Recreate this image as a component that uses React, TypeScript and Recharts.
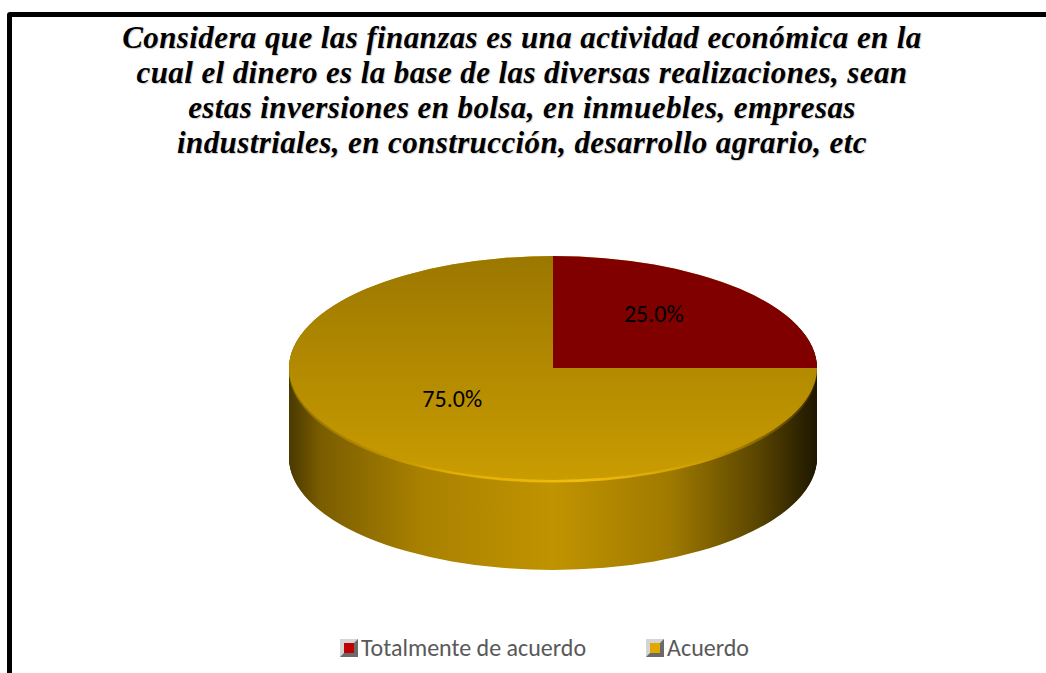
import { PieChart, Pie, Cell } from 'recharts';

const categories = ['Totalmente de acuerdo', 'Acuerdo'];
const values = [25, 75];
const topColors = ['#800000', 'url(#topYellow)'];
const legendColors = ['#C00000', '#E0A800'];

const titleLines = [
  'Considera que las finanzas es una actividad económica en la',
  'cual el dinero es la base de las diversas realizaciones, sean',
  'estas inversiones en bolsa, en inmuebles, empresas',
  'industriales, en construcción, desarrollo agrario, etc',
];

const pieData = categories.map((name, i) => ({ name, value: values[i] }));

// fake 3D: the whole chart is squashed vertically, the side is a stack of offset pies
const K = 112 / 264;
const CX = 553;
const CY = 368 / K;
const R = 264;
const DEPTH = 90 / K;
const STEP = 2;
const RIM = 7;

const layers: number[] = [];
for (let d = DEPTH; d > 0; d -= STEP) layers.push(d);

const RADIAN = Math.PI / 180;

const renderLabel = (props: any) => {
  const { cx, cy, midAngle, outerRadius, percent } = props;
  const r = outerRadius * 0.54;
  const x = cx + r * Math.cos(-midAngle * RADIAN);
  const y = cy + r * Math.sin(-midAngle * RADIAN) - 12 / K;
  return (
    <text
      x={0}
      y={0}
      transform={`translate(${x},${y}) scale(1,${1 / K})`}
      textAnchor="middle"
      dominantBaseline="central"
      fill="#000"
      fontSize={24}
      fontFamily='Carlito, Calibri, "Open Sans", sans-serif'
    >
      {`${(percent * 100).toFixed(1)}%`}
    </text>
  );
};

const App = () => {
  return (
    <div
      style={{
        position: 'absolute',
        left: 0,
        top: 0,
        width: 1046,
        height: 673,
        overflow: 'hidden',
        background: '#fff',
      }}
    >
      <div
        style={{
          position: 'absolute',
          left: 7,
          top: 12,
          width: 1120,
          height: 720,
          border: '5.5px solid #000',
          borderRadius: 3,
        }}
      />
      <div
        style={{
          position: 'absolute',
          left: 0,
          top: 20,
          width: 1044,
          textAlign: 'center',
          fontFamily: '"Liberation Serif", "Times New Roman", serif',
          fontWeight: 'bold',
          fontStyle: 'italic',
          fontSize: 31,
          letterSpacing: 0.4,
          lineHeight: '35px',
          color: '#000',
          textShadow: '1px 1px 1px rgba(0,0,0,0.2)',
        }}
      >
        {titleLines.map((l) => (
          <div key={l}>{l}</div>
        ))}
      </div>

      <div
        style={{
          position: 'absolute',
          left: 0,
          top: 0,
          width: 1046,
          height: 1400,
          transform: `scaleY(${K})`,
          transformOrigin: '0 0',
        }}
      >
        <PieChart width={1046} height={1400} margin={{ top: 0, right: 0, bottom: 0, left: 0 }}>
          <defs>
            <linearGradient id="sideGrad" gradientUnits="userSpaceOnUse" x1={CX - R} y1={0} x2={CX + R} y2={0}>
              <stop offset="0" stopColor="#4a3900" />
              <stop offset="0.06" stopColor="#7a5d00" />
              <stop offset="0.25" stopColor="#a98100" />
              <stop offset="0.5" stopColor="#c09300" />
              <stop offset="0.72" stopColor="#a07a00" />
              <stop offset="0.88" stopColor="#5e4800" />
              <stop offset="1" stopColor="#1e1700" />
            </linearGradient>
            <linearGradient id="rimGrad" gradientUnits="userSpaceOnUse" x1={CX - R} y1={0} x2={CX + R} y2={0}>
              <stop offset="0" stopColor="#8a6a00" />
              <stop offset="0.3" stopColor="#e0ac00" />
              <stop offset="0.55" stopColor="#f2bd10" />
              <stop offset="0.8" stopColor="#c89a00" />
              <stop offset="1" stopColor="#3a2c00" />
            </linearGradient>
            <linearGradient id="topYellow" gradientUnits="userSpaceOnUse" x1={0} y1={CY - R} x2={0} y2={CY + R}>
              <stop offset="0" stopColor="#9b7700" />
              <stop offset="0.5" stopColor="#b38a00" />
              <stop offset="1" stopColor="#c99c00" />
            </linearGradient>
          </defs>
          {layers.map((d) => (
            <Pie
              key={d}
              data={pieData}
              dataKey="value"
              cx={CX}
              cy={CY + d}
              outerRadius={R}
              startAngle={90}
              endAngle={-270}
              stroke="none"
              isAnimationActive={false}
              legendType="none"
            >
              {pieData.map((e) => (
                <Cell key={e.name} fill={d <= RIM ? 'url(#rimGrad)' : 'url(#sideGrad)'} />
              ))}
            </Pie>
          ))}
          <Pie
            data={pieData}
            dataKey="value"
            cx={CX}
            cy={CY}
            outerRadius={R}
            startAngle={90}
            endAngle={-270}
            stroke="none"
            isAnimationActive={false}
            label={renderLabel}
            labelLine={false}
          >
            {pieData.map((e, i) => (
              <Cell key={e.name} fill={topColors[i]} />
            ))}
          </Pie>
        </PieChart>
      </div>

      <div
        style={{
          position: 'absolute',
          left: 340,
          top: 633,
          display: 'flex',
          alignItems: 'center',
          fontFamily: 'Carlito, Calibri, "Open Sans", sans-serif',
          fontSize: 24,
          lineHeight: '30px',
          color: '#595959',
          whiteSpace: 'nowrap',
        }}
      >
        {categories.map((c, i) => (
          <div key={c} style={{ display: 'flex', alignItems: 'center', marginRight: i === 0 ? 60 : 0 }}>
            <div
              style={{
                width: 18,
                height: 18,
                boxSizing: 'border-box',
                border: '4px solid',
                borderColor: '#d4d4d4 #6a6a6a #6a6a6a #d4d4d4',
                background: legendColors[i],
                marginRight: 3,
              }}
            />
            <span>{c}</span>
          </div>
        ))}
      </div>
    </div>
  );
};

export default App;
